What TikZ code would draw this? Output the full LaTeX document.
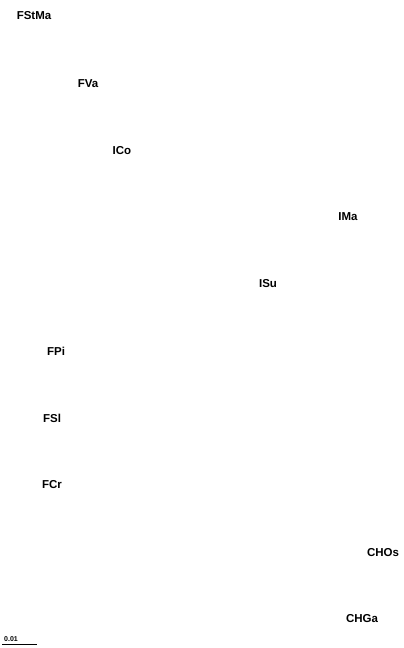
\documentclass[tikz,border=0pt]{standalone}
\usepackage{fontspec}
\setmainfont{Liberation Sans}
\begin{document}
\begin{tikzpicture}[x=1pt,y=-1pt,
  taxon/.style={inner sep=0pt,font=\fontsize{11.5}{12}\selectfont\bfseries},
  scalelbl/.style={inner sep=0pt,font=\fontsize{7}{8}\selectfont\bfseries}]
\useasboundingbox (0,0) rectangle (404,648);
\node[taxon] (fstma) at (34,16) {FStMa};
\node[taxon] (fva) at (88,84) {FVa};
\node[taxon] (ico) at (122,151) {ICo};
\node[taxon] (ima) at (348,217) {IMa};
\node[taxon] (isu) at (268,284) {ISu};
\node[taxon] (fpi) at (56,351) {FPi};
\node[taxon] (fsl) at (52,418) {FSl};
\node[taxon] (fcr) at (52,485) {FCr};
\node[taxon] (chos) at (383,553) {CHOs};
\node[taxon] (chga) at (362,619) {CHGa};
\node[scalelbl] (sl) at (11,639) {0.01};
\coordinate (s1) at (2,644.5);
\coordinate (s2) at (37,644.5);
\draw[line width=0.8pt] (s1) -- (s2);
\end{tikzpicture}
\end{document}
